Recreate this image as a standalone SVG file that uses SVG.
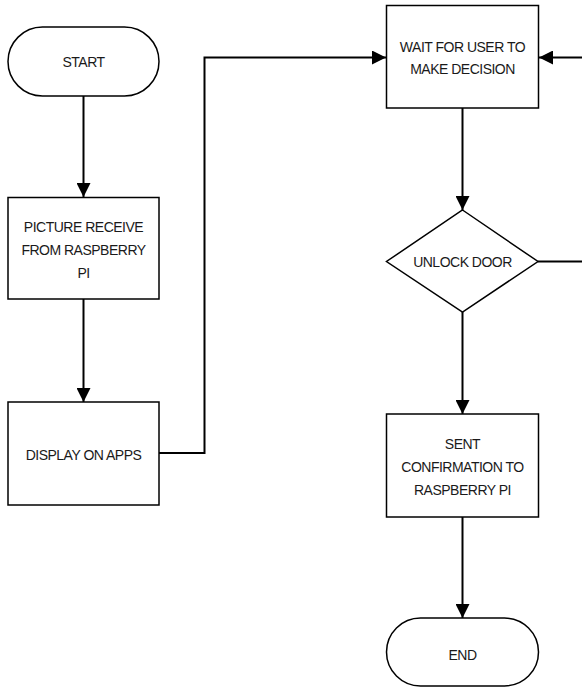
<svg xmlns="http://www.w3.org/2000/svg" width="582" height="687" viewBox="0 0 582 687">
<style>
.n{fill:#fff;stroke:#000;stroke-width:1.5}
.t{font-family:"Liberation Sans",Arial,sans-serif;font-size:14px;letter-spacing:-0.5px;fill:#1a1a1a;text-anchor:middle}
.c{fill:none;stroke:#000;stroke-width:2}
</style>
<defs>
<marker id="ah" viewBox="0 0 14 14" refX="14" refY="7" markerWidth="14" markerHeight="14" markerUnits="userSpaceOnUse" orient="auto">
<path d="M0,0 L14,7 L0,14 z" fill="#000"/>
</marker>
</defs>
<rect width="582" height="687" fill="#fff"/>
<g id="connectors">
<path class="c" d="M83.5,96 V197" marker-end="url(#ah)"/>
<path class="c" d="M83.5,299 V402" marker-end="url(#ah)"/>
<path class="c" d="M159,453 H204.5 V57.5 H386" marker-end="url(#ah)"/>
<path class="c" d="M462.5,108 V210" marker-end="url(#ah)"/>
<path class="c" d="M462.5,312 V414" marker-end="url(#ah)"/>
<path class="c" d="M462.5,517 V618" marker-end="url(#ah)"/>
<path class="c" d="M538,261.5 H600 V57.5 H539" marker-end="url(#ah)"/>
</g>
<g id="start">
<rect class="n" x="8" y="27" width="151" height="69" rx="34.5" ry="34.5"/>
<text class="t" x="83.5" y="67">START</text>
</g>
<g id="picture">
<rect class="n" x="8" y="197.5" width="151" height="101.5"/>
<text class="t" x="83.5" y="232">PICTURE RECEIVE</text>
<text class="t" x="83.5" y="255">FROM RASPBERRY</text>
<text class="t" x="83.5" y="278">PI</text>
</g>
<g id="display">
<rect class="n" x="8" y="402" width="151" height="103"/>
<text class="t" x="83.5" y="460">DISPLAY ON APPS</text>
</g>
<g id="wait">
<rect class="n" x="386.5" y="5.5" width="152" height="102.5"/>
<text class="t" x="462.5" y="52">WAIT FOR USER TO</text>
<text class="t" x="462.5" y="74">MAKE DECISION</text>
</g>
<g id="unlock">
<polygon class="n" points="462.5,210 538,261.5 462.5,312 386.5,261.5"/>
<text class="t" x="462.5" y="266.5">UNLOCK DOOR</text>
</g>
<g id="sent">
<rect class="n" x="386.5" y="414" width="152" height="103"/>
<text class="t" x="462.5" y="449">SENT</text>
<text class="t" x="462.5" y="472">CONFIRMATION TO</text>
<text class="t" x="462.5" y="495">RASPBERRY PI</text>
</g>
<g id="end">
<rect class="n" x="386.5" y="618" width="152" height="68" rx="34" ry="34"/>
<text class="t" x="462.5" y="660">END</text>
</g>
</svg>
